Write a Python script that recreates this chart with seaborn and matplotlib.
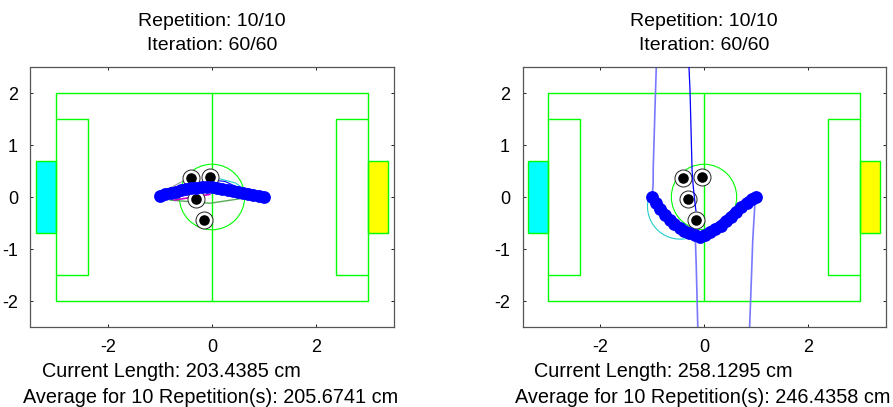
import matplotlib
matplotlib.use("Agg")
import matplotlib.pyplot as plt
from matplotlib.patches import Arc, Circle
import seaborn as sns

# Pitch geometry
outline_x = [-3, 3, 3, -3, -3]
outline_y = [-2, -2, 2, 2, -2]
halfway_x = [0, 0]
halfway_y = [-2, 2]
box_left_x = [-3, -2.4, -2.4, -3]
box_right_x = [3, 2.4, 2.4, 3]
box_y = [1.5, 1.5, -1.5, -1.5]
goal_left_x = [-3.4, -3, -3, -3.4]
goal_right_x = [3.4, 3, 3, 3.4]
goal_y = [0.7, 0.7, -0.7, -0.7]
centre_radius = 0.63

# Obstacles, the same in both panels
obstacle_x = [-0.40, -0.03, -0.31, -0.16]
obstacle_y = [0.37, 0.39, -0.03, -0.44]

# Left panel
left_path_x = [-1.0, -0.9, -0.8, -0.7, -0.6, -0.5, -0.4, -0.3, -0.2, -0.1, 0.0,
               0.1, 0.2, 0.3, 0.4, 0.5, 0.6, 0.7, 0.8, 0.9, 1.0]
left_path_y = [0.02, 0.05, 0.08, 0.10, 0.13, 0.15, 0.17, 0.18, 0.19, 0.20, 0.19,
               0.17, 0.15, 0.14, 0.11, 0.10, 0.08, 0.06, 0.04, 0.02, 0.0]
left_grey_x = [-0.81, -0.52]
left_grey_y = [0.17, 0.33]
left_green_x = [-0.81, -0.04, 0.63]
left_green_y = [-0.06, -0.12, -0.02]
left_magenta_x = [-0.73, -0.04]
left_magenta_y = [-0.06, 0.05]
left_cyan_x = [0.15, 0.45, 0.62, 0.80]
left_cyan_y = [0.35, 0.27, 0.15, 0.10]
left_blue_x = [-0.04, 0.25, 0.55]
left_blue_y = [0.33, 0.30, 0.16]

# Right panel
right_path_x = [-1.0, -0.92, -0.84, -0.75, -0.66, -0.57, -0.47, -0.38, -0.28, -0.18, -0.08,
                0.02, 0.12, 0.22, 0.32, 0.42, 0.52, 0.62, 0.72, 0.82, 0.92, 1.0]
right_path_y = [0.0, -0.12, -0.23, -0.34, -0.44, -0.52, -0.59, -0.66, -0.70, -0.74, -0.76,
                -0.73, -0.67, -0.62, -0.55, -0.47, -0.38, -0.29, -0.20, -0.12, -0.04, 0.0]
right_light1_x = [-0.92, -0.94, -0.98, -0.98, -1.0]
right_light1_y = [2.5, 1.87, 0.52, 0.27, 0.0]
right_light2_x = [-0.17, -0.15, -0.12]
right_light2_y = [-0.70, -1.31, -2.5]
right_light3_x = [1.0, 0.98, 0.94, 0.92, 0.88]
right_light3_y = [0.0, -0.15, -0.83, -1.4, -2.5]
right_dark_x = [-0.29, -0.27, -0.23, -0.21, -0.17, -0.155]
right_dark_y = [2.5, 2.06, 0.52, 0.23, -0.15, -0.27]
cyan_arc_centre = (-0.46, -0.18)

titles = ["Repetition: 10/10\nIteration: 60/60", "Repetition: 10/10\nIteration: 60/60"]
current_labels = ["Current Length: 203.4385 cm", "Current Length: 258.1295 cm"]
average_labels = ["Average for 10 Repetition(s): 205.6741 cm", "Average for 10 Repetition(s): 246.4358 cm"]
x_ticks = [-2, 0, 2]
y_ticks = [-2, -1, 0, 1, 2]

W, H = 893, 407
GREEN = "#00ff00"
BLUE = "#0000ff"
LIGHT = "#7878ff"

sns.set_theme(style="white")
plt.rcParams["font.family"] = ["Liberation Sans", "DejaVu Sans"]
plt.rcParams["axes.unicode_minus"] = False


def line(ax, xs, ys, color, lw=1.0, z=2):
    sns.lineplot(x=xs, y=ys, ax=ax, color=color, linewidth=lw, sort=False,
                 estimator=None, errorbar=None, zorder=z)


def draw_pitch(ax):
    ax.fill(goal_left_x, goal_y, facecolor="#00ffff", edgecolor=GREEN, linewidth=1, zorder=1)
    ax.fill(goal_right_x, goal_y, facecolor="#ffff00", edgecolor=GREEN, linewidth=1, zorder=1)
    line(ax, outline_x, outline_y, GREEN)
    line(ax, halfway_x, halfway_y, GREEN)
    line(ax, box_left_x, box_y, GREEN)
    line(ax, box_right_x, box_y, GREEN)
    ax.add_patch(Circle((0, 0), centre_radius, fill=False, edgecolor=GREEN, linewidth=0.8, zorder=2))
    # obstacles: ringed white disc with a black core
    sns.scatterplot(x=obstacle_x, y=obstacle_y, ax=ax, s=150, color="white",
                    edgecolor="#222222", linewidth=0.7, zorder=3)
    sns.scatterplot(x=obstacle_x, y=obstacle_y, ax=ax, s=58, color="black",
                    edgecolor="black", linewidth=0, zorder=3.5)


def finish(ax, title, current, average):
    ax.set_xlim(-3.5, 3.5)
    ax.set_ylim(-2.5, 2.5)
    ax.set_xticks(x_ticks)
    ax.set_yticks(y_ticks)
    ax.tick_params(direction="in", length=2.5, width=0.7, color="#222222", top=True, right=True,
                   labelsize=13, labelcolor="black", pad=9, bottom=True, left=True)
    for s in ax.spines.values():
        s.set_color("#555555")
        s.set_linewidth(0.9)
    ax.set_title(title, fontsize=14, color="black", pad=12, linespacing=1.55)
    ax.text(0.032, -0.173, current, transform=ax.transAxes, fontsize=14.3, color="black", va="center")
    ax.text(-0.02, -0.273, average, transform=ax.transAxes, fontsize=14.3, color="black", va="center")


fig = plt.figure(figsize=(W / 100, H / 100), dpi=100)
ax1 = fig.add_axes([30.5 / W, (H - 327) / H, 363 / W, 260 / H])
ax2 = fig.add_axes([522.5 / W, (H - 327) / H, 363 / W, 260 / H])

draw_pitch(ax1)
line(ax1, left_grey_x, left_grey_y, "#999999", 0.8)
line(ax1, left_green_x, left_green_y, "#55aa55", 1.0)
line(ax1, left_magenta_x, left_magenta_y, "#cc00cc", 1.2)
line(ax1, left_cyan_x, left_cyan_y, "#22cccc", 0.8)
line(ax1, left_blue_x, left_blue_y, BLUE, 0.8)
line(ax1, left_path_x, left_path_y, BLUE, 7.5, 5)
sns.scatterplot(x=left_path_x, y=left_path_y, ax=ax1, s=85, color=BLUE, linewidth=0, zorder=5)

draw_pitch(ax2)
ax2.add_patch(Arc(cyan_arc_centre, 2 * centre_radius, 2 * centre_radius, theta1=165, theta2=290,
                  edgecolor="#22cccc", linewidth=0.8, zorder=2))
line(ax2, right_light1_x, right_light1_y, LIGHT, 1.2)
line(ax2, right_light2_x, right_light2_y, LIGHT, 1.2)
line(ax2, right_light3_x, right_light3_y, LIGHT, 1.2)
line(ax2, right_dark_x, right_dark_y, BLUE, 0.9, 4)
line(ax2, right_path_x, right_path_y, BLUE, 7.5, 5)
sns.scatterplot(x=right_path_x, y=right_path_y, ax=ax2, s=85, color=BLUE, linewidth=0, zorder=5)

finish(ax1, titles[0], current_labels[0], average_labels[0])
finish(ax2, titles[1], current_labels[1], average_labels[1])

fig.savefig("out.png", dpi=100)
